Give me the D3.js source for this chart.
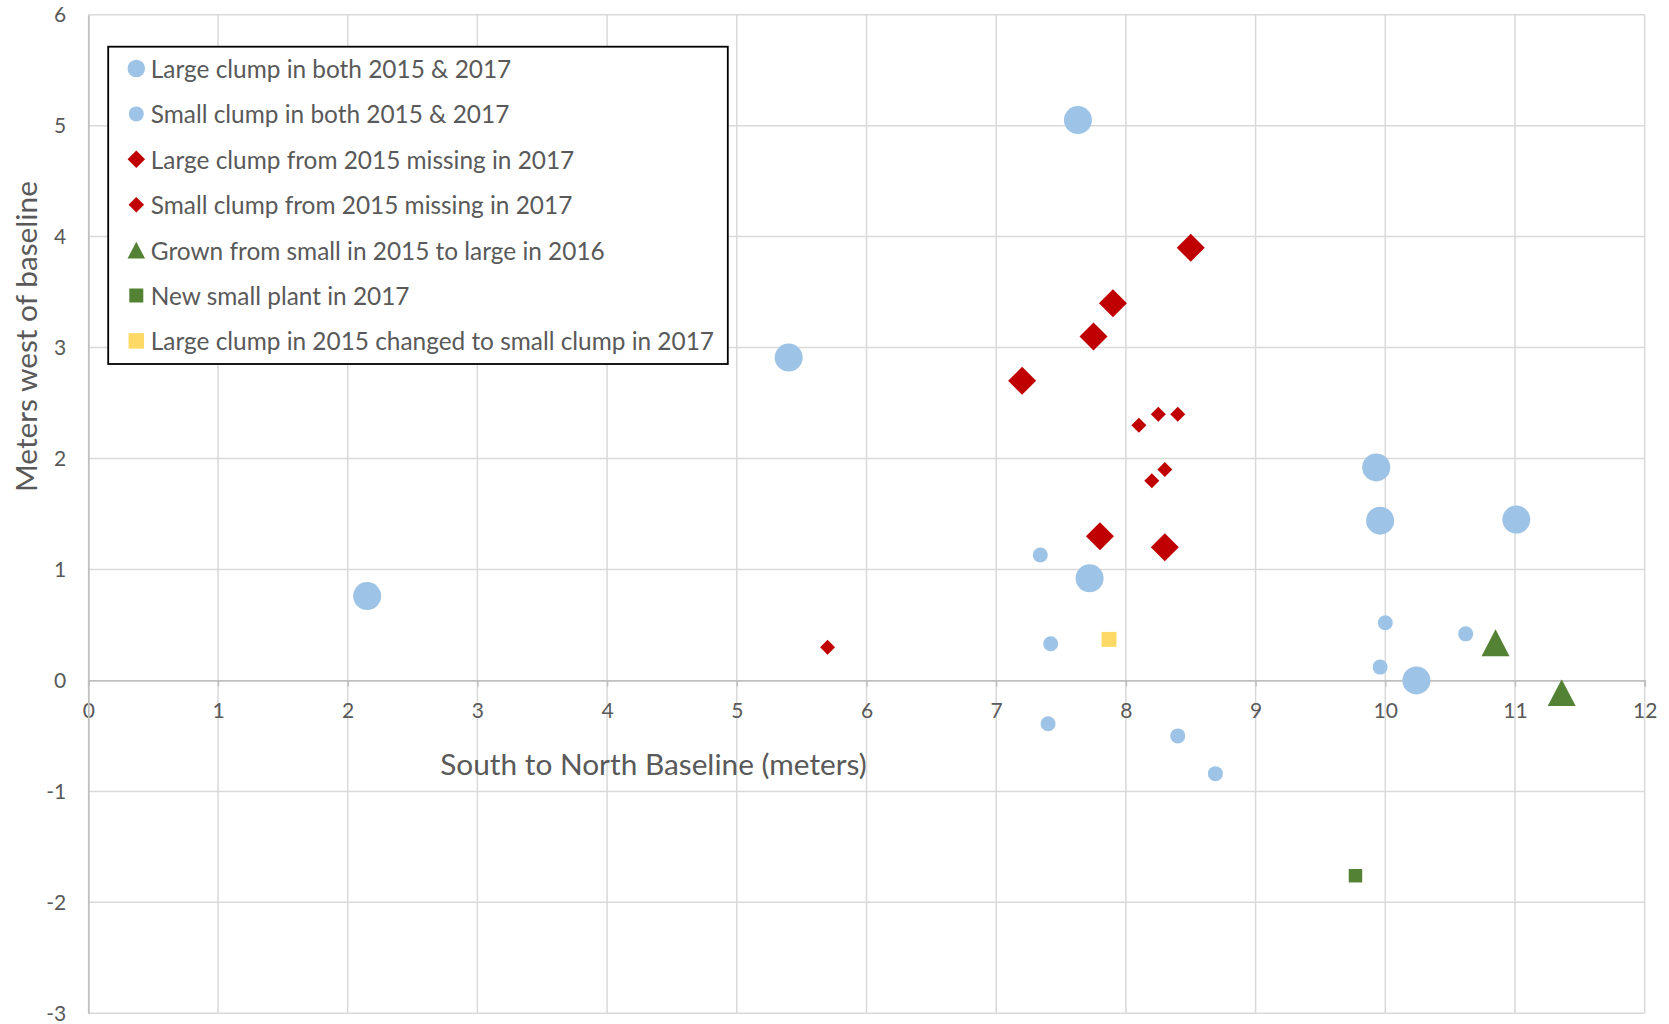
<!DOCTYPE html>
<html>
<head>
<meta charset="utf-8">
<script src="https://cdn.jsdelivr.net/npm/d3@7"></script>
<style>
  html, body { margin: 0; padding: 0; background: #ffffff; }
  svg { display: block; }
  text { font-family: Lato, "Open Sans", "Noto Sans", sans-serif; fill: #595959; }
</style>
</head>
<body>
<svg id="chart" width="1669" height="1024"></svg>
<script>
// Plant clump positions along the baseline survey (meters)
const largeBoth = [
  [7.63, 5.05], [5.40, 2.91], [9.93, 1.92], [9.96, 1.44],
  [11.01, 1.45], [7.72, 0.92], [2.15, 0.76], [10.24, 0.00]
];
const smallBoth = [
  [7.34, 1.13], [10.00, 0.52], [10.62, 0.42], [7.42, 0.33],
  [9.96, 0.12], [7.40, -0.39], [8.40, -0.50], [8.69, -0.84]
];
const largeMissing = [
  [8.50, 3.90], [7.90, 3.40], [7.75, 3.10], [7.20, 2.70],
  [7.80, 1.30], [8.30, 1.20]
];
const smallMissing = [
  [8.10, 2.30], [8.25, 2.40], [8.40, 2.40], [8.30, 1.90],
  [8.20, 1.80], [5.70, 0.30]
];
const grownLarge = [[10.85, 0.34], [11.36, -0.11]];
const newSmall = [[9.77, -1.76]];
const shrunkToSmall = [[7.87, 0.37]];

const legendLabels = [
  "Large clump in both 2015 & 2017",
  "Small clump in both 2015 & 2017",
  "Large clump from 2015 missing in 2017",
  "Small clump from 2015 missing in 2017",
  "Grown from small in 2015 to large in 2016",
  "New small plant in 2017",
  "Large clump in 2015 changed to small clump in 2017"
];

const xTickValues = [0, 1, 2, 3, 4, 5, 6, 7, 8, 9, 10, 11, 12];
const yTickValues = [-3, -2, -1, 0, 1, 2, 3, 4, 5, 6];

const xTitle = "South to North Baseline (meters)";
const yTitle = "Meters west of baseline";

// ---- layout ----
const svg = d3.select("#chart");
const plot = { left: 88.3, top: 14.7, right: 1644.7, bottom: 1013.3 };

const x = d3.scaleLinear().domain([0, 12]).range([plot.left, plot.right]);
const y = d3.scaleLinear().domain([-3, 6]).range([plot.bottom, plot.top]);

const BLUE = "#9DC3E6", RED = "#C00000", GREEN = "#548235", YELLOW = "#FFD966";
const GRID = "#d9d9d9", AXIS = "#bfbfbf";
const tickFmt = d => String(d);   // plain hyphen-minus for negatives

// marker shape generators
const shapes = {
  circle: s => { const r = s / 2; return `M${-r},0A${r},${r} 0 1,0 ${r},0A${r},${r} 0 1,0 ${-r},0Z`; },
  diamond: s => { const h = s / 2; return `M0,${-h}L${h},0L0,${h}L${-h},0Z`; },
  triangle: s => { const w = s / 2, h = s * 0.96 / 2; return `M0,${-h}L${w},${h}L${-w},${h}Z`; },
  square: s => { const h = s / 2; return `M${-h},${-h}H${h}V${h}H${-h}Z`; }
};

const series = [
  { data: largeBoth,     shape: "circle",   size: 28,   legendSize: 17.5, color: BLUE },
  { data: smallBoth,     shape: "circle",   size: 15,   legendSize: 15,   color: BLUE },
  { data: largeMissing,  shape: "diamond",  size: 28,   legendSize: 17.5, color: RED },
  { data: smallMissing,  shape: "diamond",  size: 15,   legendSize: 15.5, color: RED },
  { data: grownLarge,    shape: "triangle", size: 28,   legendSize: 17.5, color: GREEN },
  { data: newSmall,      shape: "square",   size: 13.5, legendSize: 14,   color: GREEN },
  { data: shrunkToSmall, shape: "square",   size: 15,   legendSize: 15.5, color: YELLOW }
];

// ---- gridlines ----
const grid = svg.append("g").attr("class", "grid");
grid.selectAll("line.vx")
  .data(xTickValues.filter(v => v !== 0))
  .join("line")
  .attr("x1", d => x(d)).attr("x2", d => x(d))
  .attr("y1", plot.top).attr("y2", plot.bottom)
  .attr("stroke", GRID).attr("stroke-width", 1.5);
grid.selectAll("line.hy")
  .data(yTickValues.filter(v => v !== 0))
  .join("line")
  .attr("class", "hy")
  .attr("x1", plot.left).attr("x2", plot.right)
  .attr("y1", d => y(d)).attr("y2", d => y(d))
  .attr("stroke", GRID).attr("stroke-width", 1.5);

// ---- axes crossing at the origin ----
const xAxis = d3.axisBottom(x).tickValues(xTickValues).tickFormat(tickFmt).tickSize(6).tickPadding(17);
const gx = svg.append("g")
  .attr("transform", `translate(0,${y(0)})`)
  .call(xAxis);
gx.select(".domain").attr("stroke", AXIS).attr("stroke-width", 1.8);
gx.selectAll(".tick line").attr("stroke", AXIS).attr("stroke-width", 1.5);
gx.selectAll(".tick text")
  .attr("font-size", 21).attr("fill", "#595959")
  .style("font-family", "Lato, 'Open Sans', sans-serif");

const yAxis = d3.axisLeft(y).tickValues(yTickValues).tickFormat(tickFmt).tickSize(0).tickPadding(22);
const gy = svg.append("g")
  .attr("transform", `translate(${x(0)},0)`)
  .call(yAxis);
gy.select(".domain").attr("stroke", AXIS).attr("stroke-width", 1.8);
gy.selectAll(".tick text")
  .attr("font-size", 21).attr("fill", "#595959")
  .style("font-family", "Lato, 'Open Sans', sans-serif");

// ---- axis titles ----
svg.append("text")
  .attr("x", 653.5).attr("y", 763)
  .attr("text-anchor", "middle").attr("dominant-baseline", "central")
  .attr("font-size", 29.8)
  .text(xTitle);

svg.append("text")
  .attr("transform", "translate(25.5,336.5) rotate(-90)")
  .attr("text-anchor", "middle").attr("dominant-baseline", "central")
  .attr("font-size", 29.8)
  .text(yTitle);

// ---- markers ----
const marks = svg.append("g").attr("class", "marks");
series.forEach(s => {
  marks.append("g").selectAll("path")
    .data(s.data)
    .join("path")
    .attr("transform", d => `translate(${x(d[0])},${y(d[1])})`)
    .attr("d", shapes[s.shape](s.size))
    .attr("fill", s.color);
});

// ---- legend ----
const legend = svg.append("g").attr("class", "legend");
legend.append("rect")
  .attr("x", 108.2).attr("y", 46.7)
  .attr("width", 619.6).attr("height", 317.3)
  .attr("fill", "#ffffff").attr("stroke", "#000000").attr("stroke-width", 1.8);

const rowY = d3.scalePoint().domain(d3.range(legendLabels.length)).range([68.5, 340.9]);
const rows = legend.selectAll("g.row")
  .data(series)
  .join("g")
  .attr("class", "row")
  .attr("transform", (d, i) => `translate(136.3,${rowY(i)})`);
rows.append("path")
  .attr("d", d => shapes[d.shape](d.legendSize))
  .attr("fill", d => d.color);
rows.append("text")
  .attr("x", 14.5)
  .attr("dominant-baseline", "central")
  .attr("font-size", 24.4)
  .text((d, i) => legendLabels[i]);
</script>
</body>
</html>
